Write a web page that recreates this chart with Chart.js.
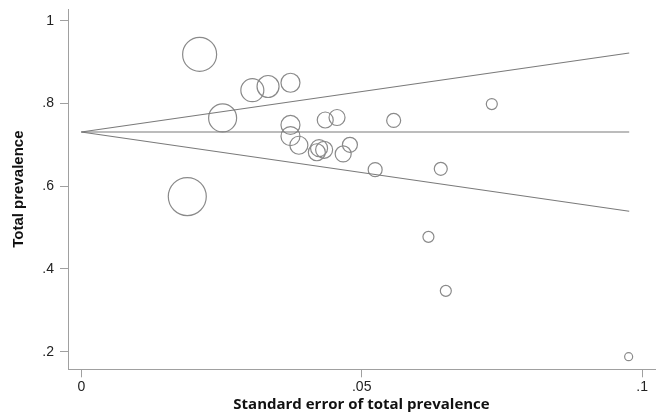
<!DOCTYPE html>
<html>
<head>
<meta charset="utf-8">
<script src="https://cdn.jsdelivr.net/npm/chart.js@4/dist/chart.umd.min.js"></script>
<style>
  html, body { margin: 0; padding: 0; background: #fff; }
  #wrap { width: 663px; height: 415px; }
</style>
</head>
<body>
<div id="wrap"><canvas id="chart"></canvas></div>
<script>
// study points: standard error, prevalence, marker radius (px)
const studySE = [0.0211, 0.0189, 0.0252, 0.0305, 0.0333, 0.0373, 0.0373, 0.0373, 0.0388,
  0.0420, 0.0424, 0.0433, 0.0467, 0.0479, 0.0435, 0.0456, 0.0557, 0.0732, 0.0641, 0.0524,
  0.0619, 0.0650, 0.0976];
const studyPrev = [0.9185, 0.575, 0.765, 0.832, 0.841, 0.850, 0.748, 0.721, 0.699,
  0.682, 0.692, 0.688, 0.678, 0.700, 0.760, 0.766, 0.759, 0.7985, 0.642, 0.640,
  0.4775, 0.347, 0.188];
const studyRadius = [17, 19, 14, 11.5, 11, 9.5, 9.5, 9.5, 9, 8.5, 8.5, 8.5, 8, 7.5, 8, 8,
  7, 5.5, 6.5, 7, 5.5, 5.5, 4];

// funnel: pooled estimate and 95% limits
const funnelSE = [0, 0.0977];
const funnelUpper = [0.731, 0.922];
const funnelPooled = [0.731, 0.731];
const funnelLower = [0.731, 0.5395];

const xTicks = [0, 0.05, 0.1];
const yTicks = [0.2, 0.4, 0.6, 0.8, 1];

const sans = "'Liberation Sans', Arial, sans-serif";

const fmt = v => {
  if (v === 0) return '0';
  return String(+v.toFixed(2)).replace(/^0/, '');
};

const toPts = ys => funnelSE.map((x, i) => ({ x, y: ys[i] }));

// no extra room for the end tick labels, the plot box is fixed
const noPad = s => {
  s.paddingTop = 0;
  s.paddingBottom = 0;
  s.paddingLeft = 0;
  s.paddingRight = 0;
};

const lineStyle = {
  type: 'line',
  borderColor: '#7a7a7a',
  borderWidth: 1.2,
  pointRadius: 0,
  fill: false,
  tension: 0
};

const ctx = document.getElementById('chart').getContext('2d');
new Chart(ctx, {
  data: {
    datasets: [
      { ...lineStyle, data: toPts(funnelUpper) },
      { ...lineStyle, data: toPts(funnelPooled) },
      { ...lineStyle, data: toPts(funnelLower) },
      {
        type: 'bubble',
        data: studySE.map((x, i) => ({ x, y: studyPrev[i], r: studyRadius[i] })),
        backgroundColor: 'rgba(0,0,0,0)',
        borderColor: '#8a8a8a',
        borderWidth: 1.2,
        hoverRadius: 0
      }
    ]
  },
  options: {
    responsive: true,
    maintainAspectRatio: false,
    animation: false,
    events: [],
    layout: { autoPadding: false, padding: { top: 9, right: 8, left: 0, bottom: 0 } },
    plugins: { legend: { display: false }, tooltip: { enabled: false } },
    scales: {
      x: {
        type: 'linear',
        min: -0.00237,
        max: 0.1023,
        afterFit: s => { s.height = 45.7; noPad(s); },
        afterBuildTicks: s => { s.ticks = xTicks.map(value => ({ value })); },
        grid: { drawOnChartArea: false, drawTicks: true, tickLength: 8, color: '#a0a0a0' },
        border: { display: true, color: '#a0a0a0', width: 1 },
        ticks: {
          padding: 1,
          color: '#222',
          font: { family: sans, size: 14 },
          maxRotation: 0,
          callback: v => fmt(v)
        },
        title: {
          display: true,
          text: 'Standard error of total prevalence',
          color: '#111',
          font: { family: "'Open Sans', sans-serif", size: 15, weight: 'bold' },
          padding: { top: 0, bottom: 1.5 }
        }
      },
      y: {
        type: 'linear',
        min: 0.1574,
        max: 1.0283,
        afterFit: s => { s.width = 68; noPad(s); },
        afterBuildTicks: s => { s.ticks = yTicks.map(value => ({ value })); },
        grid: { drawOnChartArea: false, drawTicks: true, tickLength: 8, color: '#a0a0a0' },
        border: { display: true, color: '#a0a0a0', width: 1 },
        ticks: {
          padding: 6,
          color: '#222',
          font: { family: sans, size: 14 },
          callback: v => fmt(v)
        },
        title: {
          display: true,
          text: 'Total prevalence',
          color: '#111',
          font: { family: sans, size: 15, weight: 'bold' },
          padding: { top: 10, bottom: 0 }
        }
      }
    }
  }
});
</script>
</body>
</html>
